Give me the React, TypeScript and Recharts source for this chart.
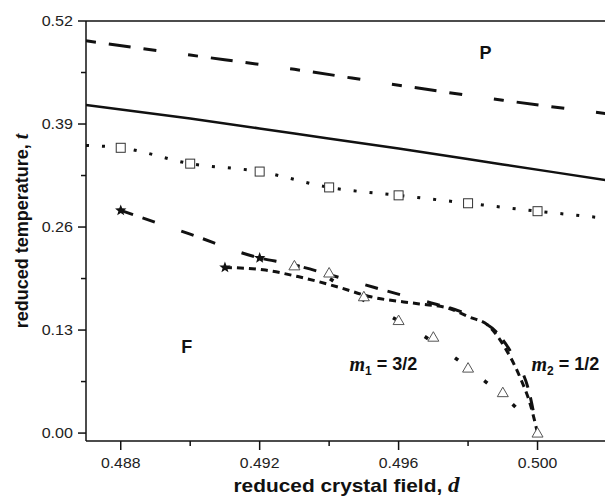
import React from 'react';
import { ComposedChart, Line, Scatter, XAxis, YAxis, ReferenceLine, ReferenceDot } from 'recharts';

// ---- axis ticks ----
const xTicks = [0.488, 0.490, 0.492, 0.494, 0.496, 0.498, 0.500];
const xTickLabels = ['0.488', '', '0.492', '', '0.496', '', '0.500'];
const yTicks = [0, 0.065, 0.13, 0.195, 0.26, 0.325, 0.39, 0.455, 0.52];
const yTickLabels = ['0.00', '', '0.13', '', '0.26', '', '0.39', '', '0.52'];

// ---- upper phase lines ----
const dUpper = [0.487, 0.490, 0.493, 0.496, 0.499, 0.502];
const tUpperDashed = [0.495, 0.477, 0.459, 0.439, 0.420, 0.403];
const tSolid = [0.414, 0.397, 0.378, 0.359, 0.339, 0.319];

// ---- dotted line with squares ----
const dDotted = [0.487, 0.488, 0.490, 0.492, 0.494, 0.496, 0.498, 0.500, 0.502];
const tDotted = [0.363, 0.360, 0.340, 0.330, 0.310, 0.300, 0.290, 0.280, 0.271];
const dSquares = [0.488, 0.490, 0.492, 0.494, 0.496, 0.498, 0.500];
const tSquares = [0.360, 0.340, 0.330, 0.310, 0.300, 0.290, 0.280];

// ---- lower curves ----
const dLong = [0.488, 0.490, 0.492, 0.4928, 0.4948, 0.4961, 0.4968, 0.4982, 0.4988, 0.4993, 0.49975, 0.500];
const tLong = [0.281, 0.251, 0.221, 0.214, 0.190, 0.174, 0.166, 0.145, 0.128, 0.097, 0.053, 0.0];
const dShort = [0.491, 0.4921, 0.4931, 0.4942, 0.4952, 0.4966, 0.4974, 0.4980, 0.4986, 0.4991, 0.4995, 0.4998, 0.500];
const tShort = [0.209, 0.206, 0.1975, 0.185, 0.172, 0.163, 0.158, 0.147, 0.135, 0.105, 0.070, 0.035, 0.0];
const dDashDot = [0.492, 0.4925, 0.4936, 0.4945, 0.4955, 0.4965, 0.4975, 0.4985, 0.4992, 0.4996, 0.500];
const tDashDot = [0.221, 0.215, 0.205, 0.181, 0.154, 0.129, 0.099, 0.065, 0.040, 0.022, 0.0];

// ---- markers ----
const dTriangles = [0.493, 0.494, 0.495, 0.496, 0.497, 0.498, 0.499, 0.500];
const tTriangles = [0.211, 0.202, 0.172, 0.142, 0.121, 0.082, 0.051, 0.0];
const dStars = [0.488, 0.491, 0.492];
const tStars = [0.281, 0.209, 0.221];

const pts = (ds: number[], ts: number[]) => ds.map((d, i) => ({ d, t: ts[i] }));

const SANS = '"Liberation Sans", Arial, Helvetica, sans-serif';
const SERIF = '"Liberation Serif", "Times New Roman", serif';

const findIdx = (arr: number[], v: number) => arr.findIndex((a) => Math.abs(a - v) < 1e-7);

// approximate natural width of a numeric label (Arial metrics) to widen it slightly
const numWidth = (s: string, fs: number) =>
  s.split('').reduce((w, ch) => w + (ch === '.' ? 0.278 : 0.556), 0) * fs;

const XTick = (props: any) => {
  const { x, y, payload } = props;
  const i = findIdx(xTicks, payload.value);
  const label = xTickLabels[i] || '';
  const major = label !== '';
  return (
    <g>
      <line x1={x} x2={x} y1={y} y2={y + (major ? 9 : 5)} stroke="#111" strokeWidth={1.5} />
      {major && (
        <text x={x} y={y + 27} textAnchor="middle" fontSize={14} fill="#222" fontFamily={SANS}
          textLength={numWidth(label, 14) * 1.13} lengthAdjust="spacingAndGlyphs">
          {label}
        </text>
      )}
    </g>
  );
};

const YTick = (props: any) => {
  const { x, y, payload } = props;
  const i = findIdx(yTicks, payload.value);
  const label = yTickLabels[i] || '';
  const major = label !== '';
  return (
    <g>
      <line x1={x} x2={x - (major ? 8 : 5)} y1={y} y2={y} stroke="#111" strokeWidth={1.5} />
      {major && (
        <text x={x - 13} y={y + 5} textAnchor="end" fontSize={14} fill="#222" fontFamily={SANS}
          textLength={numWidth(label, 14) * 1.15} lengthAdjust="spacingAndGlyphs">
          {label}
        </text>
      )}
    </g>
  );
};

const Star = (p: any) => {
  const { cx, cy } = p;
  const v: string[] = [];
  for (let i = 0; i < 10; i++) {
    const r = i % 2 === 0 ? 6 : 2.5;
    const a = -Math.PI / 2 + (i * Math.PI) / 5;
    v.push(`${cx + r * Math.cos(a)},${cy + r * Math.sin(a)}`);
  }
  return <polygon points={v.join(' ')} fill="#111" />;
};

const Square = (p: any) => (
  <rect x={p.cx - 4.5} y={p.cy - 4.5} width={9} height={9} fill="#fff" stroke="#333" strokeWidth={1} />
);

const Triangle = (p: any) => {
  const { cx, cy } = p;
  return (
    <polygon
      points={`${cx},${cy - 5.5} ${cx + 5.5},${cy + 4} ${cx - 5.5},${cy + 4}`}
      fill="#fff"
      stroke="#555"
      strokeWidth={1}
    />
  );
};

const textShape = (content: React.ReactNode, fs: number) => (p: any) => (
  <text x={p.cx} y={p.cy} textAnchor="middle" dominantBaseline="central" fontFamily={SANS} fontWeight="bold" fontSize={fs} fill="#111">
    {content}
  </text>
);

const mLabel = (sub: string, rest: string) => (
  <>
    <tspan fontFamily={SERIF} fontStyle="italic" fontWeight="bold" fontSize={20}>m</tspan>
    <tspan fontSize={12} dy={7}>{sub}</tspan>
    <tspan dy={-7}>{rest}</tspan>
  </>
);

const XTitle = (p: any) => {
  const vb = p.viewBox || {};
  const cx = vb.x + vb.width / 2;
  return (
    <text x={cx} y={492} textAnchor="middle" fontFamily={SANS} fontWeight="bold" fontSize={19} fill="#111"
      textLength={226} lengthAdjust="spacingAndGlyphs">
      reduced crystal field,{' '}
      <tspan fontFamily={SERIF} fontStyle="italic" fontSize={21}>d</tspan>
    </text>
  );
};

const YTitle = (p: any) => {
  const vb = p.viewBox || {};
  const cy = vb.y + vb.height / 2;
  return (
    <text x={28} y={cy} transform={`rotate(-90, 28, ${cy})`} textAnchor="middle" fontFamily={SANS} fontWeight="bold" fontSize={18} fill="#111">
      reduced temperature,{' '}
      <tspan fontFamily={SERIF} fontStyle="italic" fontSize={20}>t</tspan>
    </text>
  );
};

export default function App() {
  return (
    <div style={{ position: 'absolute', left: 0, top: 0, width: 605, height: 504, overflow: 'hidden', background: '#fff' }}>
      <ComposedChart width={605} height={504} margin={{ top: 21, right: -2, bottom: 0, left: 0 }}>
        <XAxis
          type="number"
          dataKey="d"
          domain={[0.487, 0.502]}
          allowDataOverflow
          ticks={xTicks}
          interval={0}
          tickSize={0}
          tickMargin={0}
          height={63}
          tick={<XTick />}
          axisLine={{ stroke: '#111', strokeWidth: 1.5 }}
          label={<XTitle />}
        />
        <YAxis
          type="number"
          dataKey="t"
          domain={[-0.01, 0.52]}
          allowDataOverflow
          ticks={yTicks}
          interval={0}
          tickSize={0}
          tickMargin={0}
          width={86}
          tick={<YTick />}
          axisLine={{ stroke: '#111', strokeWidth: 1.5 }}
          label={<YTitle />}
        />
        <ReferenceLine y={0.52} stroke="#111" strokeWidth={1.5} />

        <Line data={pts(dUpper, tUpperDashed)} dataKey="t" type="monotone" stroke="#111" strokeWidth={3} strokeDasharray="10 13 22 13 13 32" dot={false} isAnimationActive={false} />
        <Line data={pts(dUpper, tSolid)} dataKey="t" type="monotone" stroke="#111" strokeWidth={2.5} dot={false} isAnimationActive={false} />
        <Line data={pts(dDotted, tDotted)} dataKey="t" type="monotone" stroke="#111" strokeWidth={3} strokeDasharray="3 13" dot={false} isAnimationActive={false} />
        <Line data={pts(dLong, tLong)} dataKey="t" type="monotone" stroke="#111" strokeWidth={3} strokeDasharray="13 10 13 28" dot={false} isAnimationActive={false} />
        <Line data={pts(dShort, tShort)} dataKey="t" type="monotone" stroke="#111" strokeWidth={3} strokeDasharray="7 5" dot={false} isAnimationActive={false} />
        <Line data={pts(dDashDot, tDashDot)} dataKey="t" type="monotone" stroke="#111" strokeWidth={3.5} strokeDasharray="4 33" dot={false} isAnimationActive={false} />

        <Scatter data={pts(dSquares, tSquares)} dataKey="t" shape={<Square />} isAnimationActive={false} />
        <Scatter data={pts(dTriangles, tTriangles)} dataKey="t" shape={<Triangle />} isAnimationActive={false} />
        <Scatter data={pts(dStars, tStars)} dataKey="t" shape={<Star />} isAnimationActive={false} />

        <ReferenceDot x={0.4985} y={0.48} r={0} shape={textShape('P', 18)} ifOverflow="visible" />
        <ReferenceDot x={0.4899} y={0.109} r={0} shape={textShape('F', 18)} ifOverflow="visible" />
        <ReferenceDot x={0.49556} y={0.087} r={0} shape={textShape(mLabel('1', ' = 3/2'), 18)} ifOverflow="visible" />
        <ReferenceDot x={0.5008} y={0.087} r={0} shape={textShape(mLabel('2', ' = 1/2'), 18)} ifOverflow="visible" />
      </ComposedChart>
    </div>
  );
}
